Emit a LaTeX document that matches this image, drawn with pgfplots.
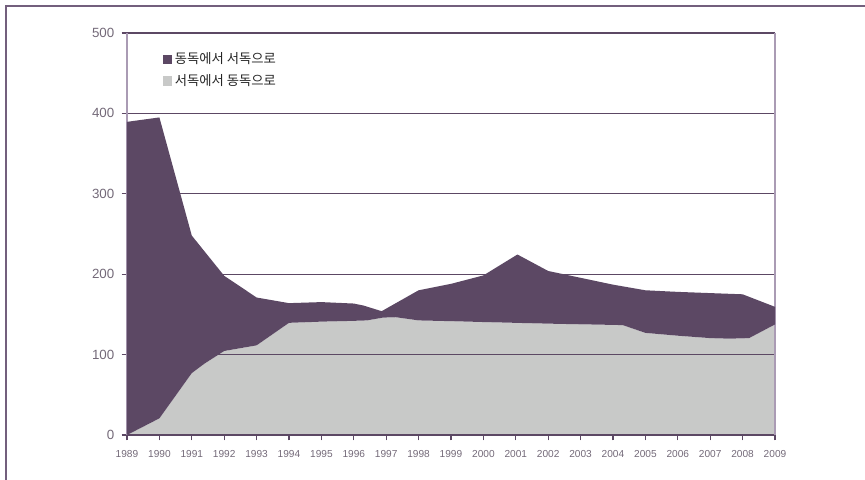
\documentclass[border=0pt]{standalone}
\usepackage{pgfplots}
\pgfplotsset{compat=1.18}
\usepackage{pgfplotstable}
\usepgfplotslibrary{fillbetween}
\usepackage{fontspec}
\setmainfont{Liberation Sans}
\newfontfamily\kr{Noto Sans CJK KR}
\definecolor{dark}{RGB}{92,72,100}
\definecolor{lgray}{RGB}{200,201,200}
\definecolor{framec}{RGB}{115,95,125}
\definecolor{lightax}{RGB}{170,155,180}
\definecolor{lab}{RGB}{115,105,120}

\pgfplotstableread{
x y
1989 389.5
1990 395
1991 248
1992 198
1993 171
1994 164
1995 165.3
1996 163.5
1996.3 161
1996.86 154
1998 180
1999 188
2000 198.5
2001.05 224.5
2002 204
2003 195.5
2004 187
2005 180
2006 178
2007 176.5
2008 175
2009 159.4
}\total

\pgfplotstableread{
x y
1989 0
1990 20.7
1991 77
1991.4 89
1992 104.5
1993 111.5
1994 139.5
1995 141
1996 142
1996.4 142.5
1996.9 146
1997.3 146.5
1998 142.5
1999 141.6
2000 140.5
2001 139.5
2002 138.5
2003 137.7
2004.3 136.7
2005 127
2006 123.5
2007 120.5
2007.6 119.8
2008.2 120.5
2009 137.5
}\west

\begin{document}
\begin{tikzpicture}
\begin{axis}[
  set layers,
  at={(0,0)}, anchor=south west,
  scale only axis, width=486pt, height=301.5pt,
  xmin=1989, xmax=2009, ymin=0, ymax=500,
  xtick={1989,1990,...,2009},
  ytick={0,100,...,500},
  separate axis lines,
  x axis line style={dark, line width=1pt},
  y axis line style={lightax, line width=1.3pt},
  xtick pos=bottom, ytick pos=left,
  tick align=outside, major tick length=4pt,
  tick style={dark, line width=0.8pt},
  ymajorgrids, grid style={dark, line width=0.9pt},
  /pgf/number format/assume math mode=true,
  /pgf/number format/set thousands separator={},
  xticklabel style={font=\fontsize{7.6}{8}\selectfont, text=lab, yshift=-4pt},
  yticklabel style={font=\fontsize{10}{12}\selectfont, text=lab, xshift=-2pt},
  legend style={at={(rel axis cs:0.055,0.958)}, anchor=north west, draw=none, fill=none,
    inner sep=0pt, row sep=2.5pt, font=\kr\fontsize{10}{11}\selectfont, text=black!85},
  legend cell align=left,
  legend image code/.code={\fill[#1] (0pt,-3.5pt) rectangle (7pt,3.5pt);},
]
\addplot[name path=T, draw=none, forget plot] table {\total};
\addplot[name path=G, draw=none, forget plot] table {\west};
\addplot[fill=lgray, draw=none, forget plot, on layer=axis background] table {\west} \closedcycle;
\addplot[fill=dark, draw=none, forget plot] fill between[of=T and G];
\addlegendimage{fill=dark, draw=none}
\addlegendentry{동독에서 서독으로}
\addlegendimage{fill=lgray, draw=none}
\addlegendentry{서독에서 동독으로}
\end{axis}
\draw[framec, line width=1.5pt] (-90.75pt,-40pt) -- (-90.75pt,321.75pt) -- (560pt,321.75pt);
\pgfresetboundingbox
\useasboundingbox (-95.25pt,-33pt) rectangle (553.5pt,326.25pt);
\end{tikzpicture}
\end{document}
